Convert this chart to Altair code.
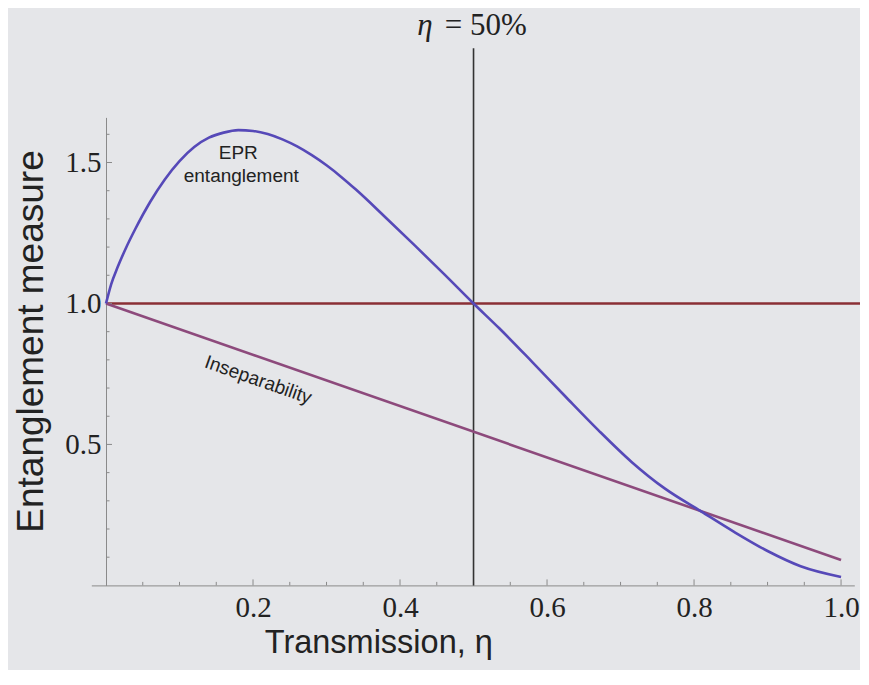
import altair as alt
import pandas as pd

# ---- data ----
epr_x = [0.0, 0.007, 0.016, 0.027, 0.04, 0.06, 0.08, 0.10, 0.12, 0.14, 0.16, 0.18, 0.20,
         0.22, 0.24, 0.26, 0.28, 0.30, 0.32, 0.34, 0.38, 0.42, 0.46, 0.50, 0.535, 0.58, 0.625, 0.67,
         0.715, 0.76, 0.81, 0.855, 0.90, 0.945, 1.00]
epr_y = [1.0, 1.068, 1.13, 1.196, 1.265, 1.36, 1.44, 1.505, 1.555, 1.588, 1.606, 1.615, 1.612,
         1.601, 1.582, 1.557, 1.526, 1.49, 1.449, 1.404, 1.306, 1.206, 1.104, 1.0, 0.912, 0.792,
         0.670, 0.550, 0.438, 0.344, 0.262, 0.189, 0.122, 0.068, 0.030]

insep_x = [0.0, 1.0]
insep_y = [1.0, 0.09]

ref_x = [0.0, 1.05]
ref_y = [1.0, 1.0]

eta_x = [0.5, 0.5]
eta_y = [0.0, 1.905]

x_ticks_major = [0.2, 0.4, 0.6, 0.8, 1.0]
x_ticks_minor = [0.05, 0.10, 0.15, 0.25, 0.30, 0.35, 0.45, 0.50, 0.55, 0.65, 0.70, 0.75, 0.85, 0.90, 0.95]
y_ticks_major = [0.5, 1.0, 1.5]
y_ticks_minor = [0.1, 0.2, 0.3, 0.4, 0.6, 0.7, 0.8, 0.9, 1.1, 1.2, 1.3, 1.4, 1.6]

labels_text = ["EPR", "entanglement"]
labels_x = [0.18, 0.184]
labels_y = [1.534, 1.452]

insep_label = ["Inseparability"]
insep_label_x = [0.207]
insep_label_y = [0.729]

title_sym = ["η"]
title_sym_x = [0.4445]
title_rest = ["=  50%"]
title_rest_x = [0.4610]
title_y = [1.985]

# ---- styling ----
BG = "#e5e6e9"
SERIF = "Liberation Serif"
SANS = "Liberation Sans"
AX = "#8a8a8a"

xs = alt.Scale(domain=[-0.02, 1.018], nice=False, zero=False)
ys = alt.Scale(domain=[0.0, 1.66], nice=False, zero=False)

x_axis = alt.Axis(
    values=x_ticks_major, format=".1f", ticks=False, tickSize=0, grid=False,
    labelFont=SERIF, labelFontSize=29, labelColor="#222", labelPadding=8,
    domainColor=AX, domainWidth=1,
    title="Transmission, η", titleFont=SANS, titleFontSize=32.5, titleFontWeight="normal",
    titleColor="#222", titleX=287, titleY=67, titleAlign="center",
    titleBaseline="alphabetic", titleAnchor="start",
)
y_axis = alt.Axis(
    values=y_ticks_major, format=".1f", ticks=False, tickSize=0, grid=False,
    labelFont=SERIF, labelFontSize=29, labelColor="#222", labelPadding=5,
    domainColor=AX, domainWidth=1, offset=-14.7,
    title="Entanglement measure", titleFont=SANS, titleFontSize=37, titleFontWeight="normal",
    titleColor="#222", titleX=-64, titleY=223.6, titleAngle=270, titleAlign="center",
    titleBaseline="alphabetic", titleAnchor="start",
)


def X(field):
    return alt.X(field, scale=xs, axis=x_axis)


def Y(field):
    return alt.Y(field, scale=ys, axis=y_axis)


ref_line = alt.Chart(pd.DataFrame({"x": ref_x, "y": ref_y})).mark_line(
    color="#8a2f35", strokeWidth=2.6).encode(x=X("x:Q"), y=Y("y:Q"))

insep = alt.Chart(pd.DataFrame({"x": insep_x, "y": insep_y})).mark_line(
    color="#8d4a7c", strokeWidth=2.6).encode(x=X("x:Q"), y=Y("y:Q"))

epr = alt.Chart(pd.DataFrame({"x": epr_x, "y": epr_y})).mark_line(
    color="#5649b8", strokeWidth=2.6, interpolate="monotone").encode(x=X("x:Q"), y=Y("y:Q"))

eta = alt.Chart(pd.DataFrame({"x": eta_x, "y": eta_y})).mark_line(
    color="#333333", strokeWidth=1.6).encode(x=X("x:Q"), y=Y("y:Q"))

xt_major = alt.Chart(pd.DataFrame({"x": x_ticks_major, "y": 0.0})).mark_rule(
    color=AX, strokeWidth=1, y2Offset=-6).encode(x=X("x:Q"), y=Y("y:Q"), y2="y:Q")
xt_minor = alt.Chart(pd.DataFrame({"x": x_ticks_minor, "y": 0.0})).mark_rule(
    color=AX, strokeWidth=1, y2Offset=-3.5).encode(x=X("x:Q"), y=Y("y:Q"), y2="y:Q")
yt_major = alt.Chart(pd.DataFrame({"y": y_ticks_major, "x": 0.0})).mark_rule(
    color=AX, strokeWidth=1, x2Offset=6).encode(y=Y("y:Q"), x=X("x:Q"), x2="x:Q")
yt_minor = alt.Chart(pd.DataFrame({"y": y_ticks_minor, "x": 0.0})).mark_rule(
    color=AX, strokeWidth=1, x2Offset=3.5).encode(y=Y("y:Q"), x=X("x:Q"), x2="x:Q")

epr_lbl = alt.Chart(pd.DataFrame({"x": labels_x, "y": labels_y, "t": labels_text})).mark_text(
    font=SANS, fontSize=19, color="#222", align="center", baseline="middle").encode(
    x=X("x:Q"), y=Y("y:Q"), text="t:N")

insep_lbl = alt.Chart(pd.DataFrame({"x": insep_label_x, "y": insep_label_y, "t": insep_label})).mark_text(
    font=SANS, fontSize=19, color="#222", align="center", baseline="middle", angle=19.3).encode(
    x=X("x:Q"), y=Y("y:Q"), text="t:N")

title_a = alt.Chart(pd.DataFrame({"x": title_sym_x, "y": title_y, "t": title_sym})).mark_text(
    font=SERIF, fontSize=31, fontStyle="italic", color="#222", align="right", baseline="middle").encode(
    x=X("x:Q"), y=Y("y:Q"), text="t:N")
title_b = alt.Chart(pd.DataFrame({"x": title_rest_x, "y": title_y, "t": title_rest})).mark_text(
    font=SERIF, fontSize=31, color="#222", align="left", baseline="middle").encode(
    x=X("x:Q"), y=Y("y:Q"), text="t:N")

chart = alt.layer(
    ref_line, xt_major, xt_minor, yt_major, yt_minor, eta, insep, epr,
    epr_lbl, insep_lbl, title_a, title_b,
).properties(
    width=763, height=468,
    autosize=alt.AutoSizeParams(type="none"),
    padding={"left": 83.3, "top": 109.4, "right": 6, "bottom": 85},
    background=BG,
).configure_view(stroke=None)

chart.save("out.html", embed_options={"renderer": "svg", "actions": False})
